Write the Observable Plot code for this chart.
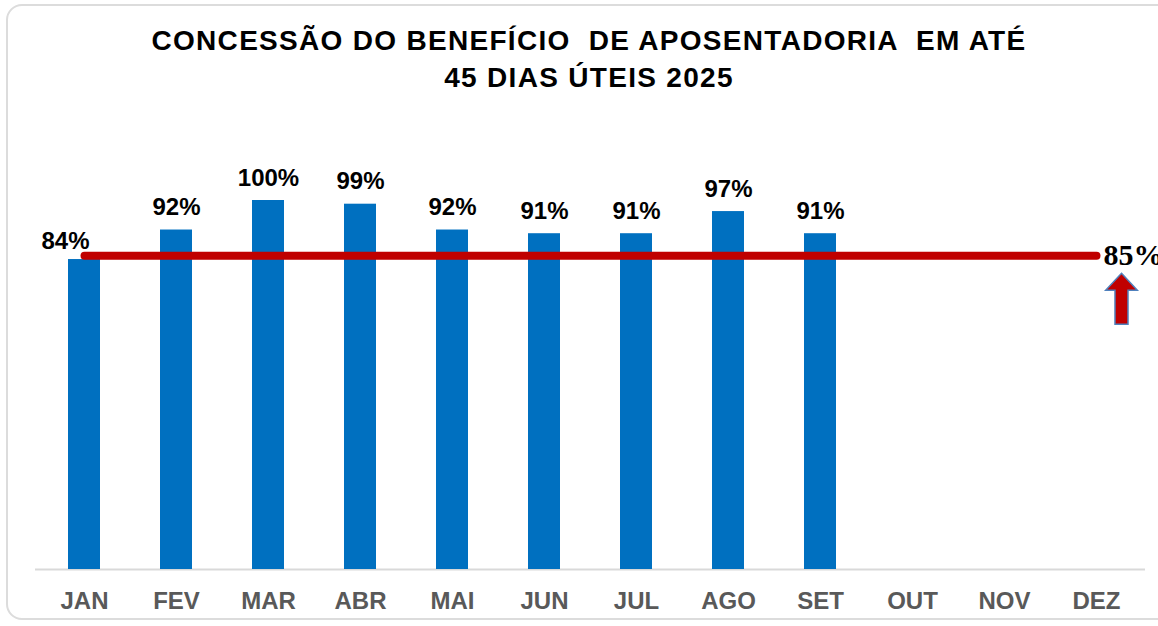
<!DOCTYPE html>
<html>
<head>
<meta charset="utf-8">
<script src="https://cdn.jsdelivr.net/npm/d3@7"></script>
<script src="https://cdn.jsdelivr.net/npm/@observablehq/plot@0.6"></script>
<style>
  html, body { margin: 0; padding: 0; background: #fff; }
  #wrap { position: relative; width: 1158px; height: 626px; overflow: hidden; font-family: "Liberation Sans", Arial, sans-serif; }
  #frame { position: absolute; left: 6px; top: 4px; width: 1170px; height: 616px; border: 2px solid #dcdcdc; border-radius: 16px; box-sizing: border-box; }
  #title { position: absolute; left: 10px; top: 22px; width: 1158px; text-align: center; font-weight: bold; font-size: 28px; line-height: 37px; color: #000; letter-spacing: 1.3px; white-space: pre; }
  #chart { position: absolute; left: 0; top: 0; }
</style>
</head>
<body>
<div id="wrap">
  <div id="frame"></div>
  <div id="title">CONCESSÃO DO BENEFÍCIO  DE APOSENTADORIA  EM ATÉ
45 DIAS ÚTEIS 2025</div>
  <div id="chart"></div>
</div>
<script>
const months = ["JAN","FEV","MAR","ABR","MAI","JUN","JUL","AGO","SET","OUT","NOV","DEZ"];
const values = [0.84, 0.92, 1.00, 0.99, 0.92, 0.91, 0.91, 0.97, 0.91];
const valueLabels = ["84%","92%","100%","99%","92%","91%","91%","97%","91%"];
const target = 0.85;
const targetLabel = "85%";

const bars = values.map((v, i) => ({month: months[i], value: v, label: valueLabels[i]}));
const targetLine = [{month: months[0], value: target}, {month: months[months.length - 1], value: target}];
const targetPoint = [{month: months[months.length - 1], value: target, label: targetLabel}];

const arrowSymbol = {
  draw(context, size) {
    const s = Math.sqrt(size) / 2;
    const hw = s * 0.62, sw = s * 0.255, top = -s, headBase = -s * 0.333, bottom = s;
    context.moveTo(0, top);
    context.lineTo(hw, headBase);
    context.lineTo(sw, headBase);
    context.lineTo(sw, bottom);
    context.lineTo(-sw, bottom);
    context.lineTo(-sw, headBase);
    context.lineTo(-hw, headBase);
    context.closePath();
  }
};

const chart = Plot.plot({
  width: 1158,
  height: 626,
  marginLeft: 35,
  marginRight: 13,
  marginTop: 0,
  marginBottom: 57,
  style: { fontFamily: "'Liberation Sans', Arial, sans-serif", background: "transparent", overflow: "visible" },
  x: { type: "band", domain: months, range: [35, 1145], paddingInner: 0.655, paddingOuter: 0.3275, align: 0.5, axis: null },
  y: { domain: [0, 1], range: [569, 200], axis: null },
  marks: [
    Plot.ruleY([0], { stroke: "#d9d9d9", strokeWidth: 2 }),
    Plot.barY(bars, { x: "month", y: "value", fill: "#0070C0" }),
    Plot.line(targetLine, { x: "month", y: "value", stroke: "#C00000", strokeWidth: 8, strokeLinecap: "round" }),
    Plot.text(bars.slice(0, 1), { x: "month", y: "value", text: "label", lineAnchor: "bottom", dy: -11, dx: -19,
      fontSize: 24, fontWeight: "bold", fill: "#000" }),
    Plot.text(bars.slice(1), { x: "month", y: "value", text: "label", lineAnchor: "bottom", dy: -15,
      fontSize: 24, fontWeight: "bold", fill: "#000" }),
    Plot.text(targetPoint, { x: "month", y: "value", text: "label", textAnchor: "start", dx: 7, dy: 0,
      fontFamily: "'Liberation Serif', 'Times New Roman', serif", fontSize: 30, fontWeight: "bold", fill: "#000" }),
    Plot.dot(targetPoint, { x: "month", y: "value", symbol: arrowSymbol, r: 28.8, dx: 25, dy: 43,
      fill: "#C00000", stroke: "#4F81BD", strokeWidth: 1.5 }),
    Plot.axisX({ tickSize: 0, tickPadding: 22, fontSize: 24, fontWeight: "bold", fill: "#595959", label: null })
  ]
});
document.getElementById("chart").appendChild(chart);
</script>
</body>
</html>
